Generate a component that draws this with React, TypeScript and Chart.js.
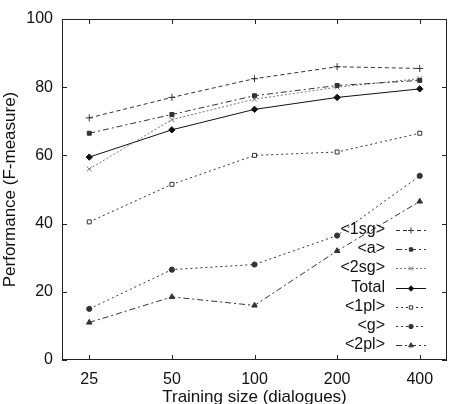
import React, { useEffect, useRef } from "react";
import { Chart, registerables } from "chart.js";
import { drawPoint } from "chart.js/helpers";

Chart.register(...registerables);

const sizes = ["25", "50", "100", "200", "400"];
const yTicks = [0, 20, 40, 60, 80, 100];
const seriesNames = ["<1sg>", "<a>", "<2sg>", "Total", "<1pl>", "<g>", "<2pl>"];
const sg1 = [71, 77, 82.5, 86, 85.5];
const aVals = [66.5, 72, 77.5, 80.5, 82];
const sg2 = [56, 70.5, 76.5, 80, 82.5];
const total = [59.5, 67.5, 73.5, 77, 79.5];
const pl1 = [40.5, 51.5, 60, 61, 66.5];
const gVals = [15, 26.5, 28, 36.5, 54];
const pl2 = [11, 18.5, 16, 32, 46.5];

const FONT = "'Liberation Sans', Arial, Helvetica, sans-serif";

const styles = [
  { color: "#333", dash: [4, 3], point: "cross", fill: false, r: 3.5 },
  { color: "#333", dash: [6, 3, 2, 3], point: "rect", fill: true, r: 2.8 },
  { color: "#777", dash: [2, 2], point: "crossRot", fill: false, r: 3.5 },
  { color: "#111", dash: [], point: "rectRot", fill: true, r: 3.2 },
  { color: "#333", dash: [2, 3], point: "rect", fill: false, r: 2.8 },
  { color: "#333", dash: [2, 3], point: "circle", fill: true, r: 2.6 },
  { color: "#333", dash: [6, 3, 2, 3], point: "triangle", fill: true, r: 3.2 },
];

const allData = [sg1, aVals, sg2, total, pl1, gVals, pl2];

const framePlugin = {
  id: "frame",
  afterDraw(chart: any) {
    const { ctx, chartArea: ca } = chart;
    const xs = chart.scales.x;
    const ys = chart.scales.y;
    ctx.save();
    ctx.strokeStyle = "#222";
    ctx.lineWidth = 1;
    ctx.setLineDash([]);
    ctx.strokeRect(ca.left + 0.5, ca.top + 0.5, ca.right - ca.left - 1, ca.bottom - ca.top - 1);
    const tl = 5;
    ctx.beginPath();
    sizes.forEach((_, i) => {
      const px = Math.round(xs.getPixelForValue(i)) + 0.5;
      ctx.moveTo(px, ca.bottom);
      ctx.lineTo(px, ca.bottom - tl);
      ctx.moveTo(px, ca.top);
      ctx.lineTo(px, ca.top + tl);
    });
    yTicks.forEach((v) => {
      const py = Math.round(ys.getPixelForValue(v)) + 0.5;
      ctx.moveTo(ca.left, py);
      ctx.lineTo(ca.left + tl, py);
      ctx.moveTo(ca.right, py);
      ctx.lineTo(ca.right - tl, py);
    });
    ctx.stroke();

    // legend
    const textRight = ca.right - 62;
    const lineStart = ca.right - 51;
    const lineEnd = ca.right - 21;
    const y0 = ca.bottom - 130;
    const step = 19.2;
    ctx.font = `16px ${FONT}`;
    ctx.textAlign = "right";
    ctx.textBaseline = "middle";
    seriesNames.forEach((name, i) => {
      const st = styles[i];
      const y = Math.round(y0 + i * step);
      ctx.fillStyle = "#111";
      ctx.fillText(name, textRight, y);
      ctx.beginPath();
      ctx.strokeStyle = st.color;
      ctx.setLineDash(st.dash);
      ctx.moveTo(lineStart, y + 0.5);
      ctx.lineTo(lineEnd, y + 0.5);
      ctx.stroke();
      ctx.setLineDash([]);
      ctx.fillStyle = st.fill ? st.color : "#fff";
      ctx.strokeStyle = st.color;
      ctx.lineWidth = 1;
      drawPoint(ctx, { pointStyle: st.point, radius: st.r * 0.85, borderWidth: 1, rotation: 0 } as any, (lineStart + lineEnd) / 2, y + 0.5);
    });
    ctx.restore();
  },
};

export default function App() {
  const ref = useRef<HTMLCanvasElement>(null);
  useEffect(() => {
    document.body.style.margin = "0";
    const chart = new Chart(ref.current!, {
      type: "line",
      data: {
        labels: sizes,
        datasets: seriesNames.map((name, i) => ({
          label: name,
          data: allData[i].map((v, j) => ({ x: j, y: v })),
          borderColor: styles[i].color,
          backgroundColor: styles[i].fill ? styles[i].color : "#fff",
          borderWidth: 1,
          borderDash: styles[i].dash,
          pointStyle: styles[i].point as any,
          pointRadius: styles[i].r,
          pointBorderWidth: 1,
          pointBorderColor: styles[i].color,
          pointBackgroundColor: styles[i].fill ? styles[i].color : "#fff",
          tension: 0,
          fill: false,
        })),
      },
      options: {
        responsive: false,
        animation: false,
        layout: { padding: { top: 19, right: 3, left: 0, bottom: 0 } },
        plugins: { legend: { display: false }, tooltip: { enabled: false } },
        scales: {
          x: {
            type: "linear",
            min: -0.33,
            max: 4.33,
            afterFit: (s: any) => { s.height = 44; },
            afterBuildTicks: (s: any) => { s.ticks = sizes.map((_, i) => ({ value: i })); },
            grid: { display: false, drawTicks: false },
            border: { display: false },
            ticks: {
              color: "#111",
              font: { family: FONT, size: 16 },
              padding: 10,
              autoSkip: false,
              maxRotation: 0,
              callback: (v: any) => sizes[v] ?? "",
            },
            title: {
              display: true,
              text: "Training size (dialogues)",
              color: "#111",
              font: { family: FONT, size: 17 },
              padding: { top: 4, bottom: -4 },
            },
          },
          y: {
            min: 0,
            max: 100,
            afterFit: (s: any) => { s.width = 62; },
            afterBuildTicks: (s: any) => { s.ticks = yTicks.map((v) => ({ value: v })); },
            grid: { display: false, drawTicks: false },
            border: { display: false },
            ticks: {
              color: "#111",
              font: { family: FONT, size: 16 },
              padding: 9,
            },
            title: {
              display: true,
              text: "Performance (F-measure)",
              color: "#111",
              font: { family: FONT, size: 17 },
              padding: { top: 0, bottom: 0 },
            },
          },
        },
      },
      plugins: [framePlugin],
    });
    return () => chart.destroy();
  }, []);
  return <canvas ref={ref} width={452} height={404} style={{ display: "block" }} />;
}
